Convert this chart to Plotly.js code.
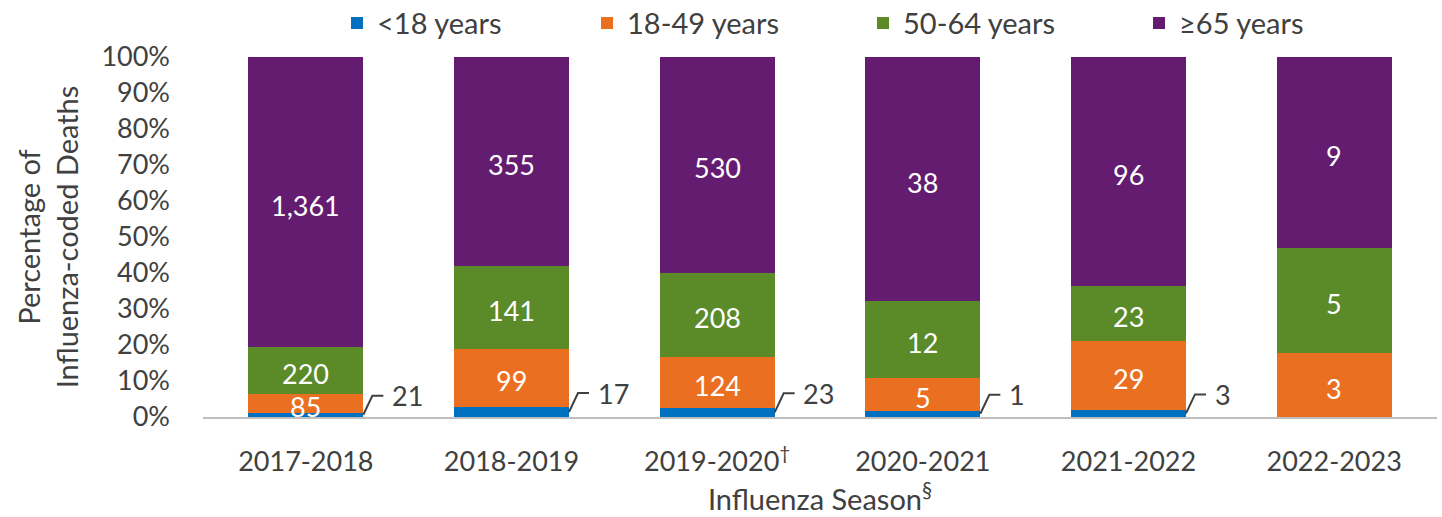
<!DOCTYPE html>
<html>
<head>
<meta charset="utf-8">
<script src="https://cdn.plot.ly/plotly-3.0.1.min.js"></script>
<style>html,body{margin:0;padding:0;background:#fff;}#chart{width:1442px;height:517px;}</style>
</head>
<body>
<div id="chart"></div>
<script>
var seasons = ['2017-2018', '2018-2019', '2019-2020<sup>†</sup>', '2020-2021', '2021-2022', '2022-2023'];
var under18 = [21, 17, 23, 1, 3, 0];
var age18to49 = [85, 99, 124, 5, 29, 3];
var age50to64 = [220, 141, 208, 12, 23, 5];
var age65plus = [1361, 355, 530, 38, 96, 9];
var seriesNames = ['<18 years', '18-49 years', '50-64 years', '≥65 years'];
var seriesColors = ['#0070C0', '#EB6F20', '#5B8A29', '#641C70'];
var yTicks = [0, 10, 20, 30, 40, 50, 60, 70, 80, 90, 100];
var yTickText = yTicks.map(function (t) { return t + '%'; });

var FONT = 'Lato, "Source Sans Pro", sans-serif';
var FS = 27;
var LFS = 29;
var TXT = '#404040';
var legendWidths = [205, 231, 231, 150];

function fmt(v) { return v.toLocaleString('en-US'); }

var allSeries = [under18, age18to49, age50to64, age65plus];
var totals = seasons.map(function (s, k) {
  return allSeries.reduce(function (a, ser) { return a + ser[k]; }, 0);
});

var traces = allSeries.map(function (vals, i) {
  return {
    type: 'bar',
    name: seriesNames[i],
    x: seasons,
    y: vals,
    marker: { color: seriesColors[i], line: { width: 0 } },
    legendwidth: legendWidths[i],
    hoverinfo: 'x+y+name'
  };
});

var annotations = [];
var shapes = [];

// in-bar count labels (series 2-4), at the middle of each stacked segment
seasons.forEach(function (s, k) {
  var cum = 0;
  allSeries.forEach(function (ser, i) {
    var pct = ser[k] / totals[k] * 100;
    if (i > 0 && ser[k] > 0) {
      annotations.push({
        x: k, y: cum + pct / 2, xref: 'x', yref: 'y', yshift: -3,
        text: fmt(ser[k]), showarrow: false,
        xanchor: 'center', yanchor: 'middle',
        font: { family: FONT, size: FS, color: '#ffffff' }
      });
    }
    cum += pct;
  });
});

// <18 labels outside the bar with a bent leader line
seasons.forEach(function (s, k) {
  var v = under18[k];
  if (!v) return;
  var mid = v / totals[k] * 100 / 2;
  shapes.push({
    type: 'path', xref: 'x', yref: 'y',
    xsizemode: 'pixel', ysizemode: 'pixel',
    xanchor: k, yanchor: mid,
    path: 'M57.5,0 L66.5,19 L77.5,19',
    line: { color: '#404040', width: 2 }
  });
  annotations.push({
    x: k, y: mid, xref: 'x', yref: 'y',
    xshift: 84, yshift: 19,
    text: fmt(v), showarrow: false,
    xanchor: 'left', yanchor: 'middle',
    font: { family: FONT, size: FS, color: TXT }
  });
});

var layout = {
  width: 1442, height: 517,
  margin: { l: 203, r: 5, t: 57, b: 100 },
  paper_bgcolor: '#fff', plot_bgcolor: '#fff',
  barmode: 'stack', barnorm: 'percent', bargap: 0.441,
  font: { family: FONT, size: FS, color: TXT },
  showlegend: true,
  legend: {
    orientation: 'h', xref: 'paper', x: 0.1086, xanchor: 'left',
    yref: 'container', y: 0.955, yanchor: 'middle',
    font: { family: FONT, size: LFS, color: TXT },
    traceorder: 'normal', bgcolor: 'rgba(0,0,0,0)',
    itemclick: false, itemdoubleclick: false
  },
  xaxis: {
    type: 'category',
    showgrid: false, zeroline: false,
    showline: true, linecolor: '#BFBFBF', linewidth: 2,
    ticks: '', ticklabelstandoff: 20,
    tickfont: { family: FONT, size: FS, color: TXT },
    title: { text: 'Influenza Season<sup>§</sup>', standoff: 6, font: { family: FONT, size: LFS, color: TXT } }
  },
  yaxis: {
    range: [0, 100], tickmode: 'array', tickvals: yTicks, ticktext: yTickText,
    showgrid: false, zeroline: false, showline: false,
    ticks: '', ticklabelstandoff: 32,
    tickfont: { family: FONT, size: FS, color: TXT },
    title: { text: 'Percentage of<br>Influenza-coded Deaths', standoff: 14, font: { family: FONT, size: LFS, color: TXT } }
  },
  annotations: annotations,
  shapes: shapes
};

Plotly.newPlot('chart', traces, layout, { displayModeBar: false, staticPlot: true });
</script>
</body>
</html>
